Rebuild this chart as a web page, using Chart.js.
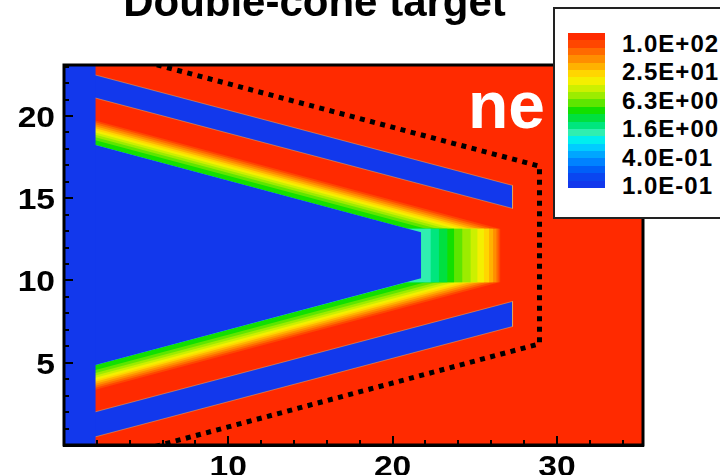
<!DOCTYPE html>
<html>
<head>
<meta charset="utf-8">
<script src="https://cdn.jsdelivr.net/npm/chart.js@4.4.1/dist/chart.umd.min.js"></script>
<style>
  html, body { margin: 0; padding: 0; background: #fff; overflow: hidden; }
  #wrap { position: relative; width: 720px; height: 475px; overflow: hidden;
          font-family: "Liberation Sans", Arial, Helvetica, sans-serif; }
  #plot { position: absolute; left: 0; top: 0; }
  #title { position: absolute; left: 0; top: -19px; width: 629px; text-align: center;
           font-weight: bold; font-size: 42px; line-height: 42px; color: #000; white-space: nowrap; }
  #tag { position: absolute; left: 468px; top: 72px; font-weight: bold; font-size: 66px;
         line-height: 66px; color: #fff; }
  #legend { position: absolute; left: 553px; top: 7px; width: 200px; height: 208px;
            background: #fff; border: 2px solid #222; }
  #bar { position: absolute; left: 13px; top: 24px; width: 37px; height: 155px; }
  #bar div { width: 100%; }
  .lab { position: absolute; left: 67px; font-weight: bold; font-size: 24px; line-height: 24px;
         letter-spacing: 1px; color: #000; white-space: nowrap; }
</style>
</head>
<body>
<div id="wrap">
  <canvas id="plot" width="720" height="475"></canvas>
  <div id="title">Double-cone target</div>
  <div id="tag">ne</div>
  <div id="legend"><div id="bar"></div></div>
</div>
<script>
// ---- axes ----
const xAxisRange = [0, 35.24];
const yAxisRange = [0, 23.1];
const xTickValues = [10, 20, 30];
const xMinorValues = [2, 4, 6, 8, 12, 14, 16, 18, 22, 24, 26, 28, 32, 34];
const yTickValues = [5, 10, 15, 20];
const yMinorValues = [1, 2, 3, 4, 6, 7, 8, 9, 11, 12, 13, 14, 16, 17, 18, 19, 21, 22, 23];

// ---- electron density colour levels (top = highest) ----
const levelColors = ['#ff2a00', '#ff4600', '#ff6a00', '#ff8e00', '#ffb200', '#ffd600', '#f4ef00',
                     '#ccf000', '#9cec00', '#5ee600', '#12e000', '#00e040', '#00e67e', '#30eeb0',
                     '#00eeee', '#00ccff', '#00a6ff', '#0082ff', '#005ff8', '#0a46f0', '#1238ec'];
const legendLabels = ['1.0E+02', '2.5E+01', '6.3E+00', '1.6E+00', '4.0E-01', '1.0E-01'];
const legendLabelY = [43.3, 71.8, 100.3, 128.8, 157.3, 185.8];

// ---- target geometry (x, y) ----
const wallStartX = 1.92;
const outerTopEdge = [[1.92, 22.49], [27.3, 15.78]];       // outer cone, inner face
const innerTopBackEdge = [[1.92, 21.09], [27.3, 14.38]];   // inner cone, outer face
const innerBottomBackEdge = [[1.92, 2.02], [27.3, 8.73]];
const outerBottomEdge = [[1.92, 0.50], [27.3, 7.20]];
const gapEndX = 27.3;
const cavityTop = [[1.92, 18.23], [21.73, 12.93]];         // inner cone, inner face
const cavityBottom = [[1.92, 4.86], [21.73, 10.13]];
const cavityTipX = 21.73;
const tipPlume = [9.9, 13.15];                              // vertical extent of the tip plume

// density bands expanding from the inner cone surface
const bandLevels = [1, 2, 3, 4, 5, 6, 7, 8, 9, 10, 11, 12, 13];
const bandWallDepth = [1.5, 1.38, 1.26, 1.14, 1.02, 0.9, 0.77, 0.63, 0.48, 0.3, 0, 0, 0];
const bandTipReach = [26.55, 26.45, 26.32, 26.12, 25.87, 25.56, 25.16, 24.75, 24.24, 23.74, 23.33, 22.82, 22.32];

// dotted outline
const outlinePath = [[3.8, 23.6], [28.94, 16.95], [28.94, 6.15], [4.0, -0.5]];

// ---- helpers ----
const FONT = '"Liberation Sans", Arial, Helvetica, sans-serif';
const edgeY = (e, x) => e[0][1] + (e[1][1] - e[0][1]) * (x - e[0][0]) / (e[1][0] - e[0][0]);
const edgeX = (e, y) => e[0][0] + (e[1][0] - e[0][0]) * (y - e[0][1]) / (e[1][1] - e[0][1]);
const XS = 1.0; // polygons start under the left vacuum strip

function polygon(points, color, edge) {
  const data = points.map(([x, y]) => ({ x, y }));
  data.push({ ...data[0] });
  return { data, showLine: true, fill: 'shape', backgroundColor: color,
           borderWidth: edge ? 1 : 0, borderColor: edge || 'rgba(0,0,0,0)',
           pointRadius: 0, tension: 0, clip: 0 };
}

function bandPolygon(i) {
  const v = bandWallDepth[i], xk = bandTipReach[i];
  const [B, T] = tipPlume;
  const xa = Math.min(xk, edgeX(cavityTop, T - v));
  const xb = Math.min(xk, edgeX(cavityBottom, B + v));
  return polygon([
    [XS, edgeY(cavityTop, XS) + v],
    [xa, edgeY(cavityTop, xa) + v],
    [xk, Math.max(T, edgeY(cavityTop, xk) + v)],
    [xk, Math.min(B, edgeY(cavityBottom, xk) - v)],
    [xb, edgeY(cavityBottom, xb) - v],
    [XS, edgeY(cavityBottom, XS) - v]
  ], levelColors[bandLevels[i]]);
}

const RED = levelColors[0], BLUE = levelColors[levelColors.length - 1];
const GAP_EDGE = 'rgba(235,180,90,0.5)';
const layers = [];
layers.push(polygon([[-1, -1], [37, -1], [37, 25], [-1, 25]], RED));
layers.push(polygon([[XS, edgeY(outerTopEdge, XS)], [gapEndX, edgeY(outerTopEdge, gapEndX)],
                     [gapEndX, edgeY(innerTopBackEdge, gapEndX)], [XS, edgeY(innerTopBackEdge, XS)]], BLUE, GAP_EDGE));
layers.push(polygon([[XS, edgeY(innerBottomBackEdge, XS)], [gapEndX, edgeY(innerBottomBackEdge, gapEndX)],
                     [gapEndX, edgeY(outerBottomEdge, gapEndX)], [XS, edgeY(outerBottomEdge, XS)]], BLUE, GAP_EDGE));
bandLevels.forEach((_, i) => layers.push(bandPolygon(i)));
layers.push(polygon([[XS, edgeY(cavityTop, XS)], [cavityTipX, edgeY(cavityTop, cavityTipX)],
                     [cavityTipX, edgeY(cavityBottom, cavityTipX)], [XS, edgeY(cavityBottom, XS)]], BLUE));
layers.push(polygon([[-1, -1], [wallStartX, -1], [wallStartX, 25], [-1, 25]], BLUE));
layers.push({ data: outlinePath.map(([x, y]) => ({ x, y })), showLine: true, fill: false,
              borderColor: '#000', borderWidth: 5, borderDash: [5, 5.5], borderCapStyle: 'butt',
              borderJoinStyle: 'miter', pointRadius: 0, tension: 0, clip: 0 });
layers.forEach((d, i) => { d.order = layers.length - i; });

// inward tick marks, frame and (slightly widened) tick labels
const LABEL_STRETCH = 1.12;
const framePlugin = {
  id: 'frame',
  afterDatasetsDraw(chart) {
    const { ctx, chartArea: a, scales: { x, y } } = chart;
    ctx.save();
    ctx.strokeStyle = '#000';
    ctx.lineWidth = 2;
    ctx.beginPath();
    const tick = (vals, len) => {
      vals.forEach(v => { const p = Math.round(x.getPixelForValue(v)); ctx.moveTo(p, a.bottom); ctx.lineTo(p, a.bottom - len); });
    };
    const ytick = (vals, len) => {
      vals.forEach(v => { const p = Math.round(y.getPixelForValue(v)); ctx.moveTo(a.left, p); ctx.lineTo(a.left + len, p); });
    };
    tick(xTickValues, 9); tick(xMinorValues, 5);
    ytick(yTickValues, 9); ytick(yMinorValues, 5);
    ctx.stroke();
    ctx.lineWidth = 3;
    ctx.strokeRect(a.left, a.top, a.right - a.left, a.bottom - a.top);
    ctx.restore();
  },
  afterDraw(chart) {
    const { ctx, chartArea: a, scales: { x, y } } = chart;
    ctx.save();
    ctx.fillStyle = '#000';
    ctx.font = 'bold 30px ' + FONT;
    ctx.textBaseline = 'alphabetic';
    const put = (text, px, py, align) => {
      ctx.save();
      ctx.translate(px, py);
      ctx.scale(LABEL_STRETCH, 1);
      ctx.textAlign = align;
      ctx.fillText(text, 0, 0);
      ctx.restore();
    };
    xTickValues.forEach(v => put(String(v), x.getPixelForValue(v), a.bottom + 31, 'center'));
    yTickValues.forEach(v => put(String(v), a.left - 9, y.getPixelForValue(v) + 11, 'right'));
    ctx.restore();
  }
};

new Chart(document.getElementById('plot'), {
  type: 'scatter',
  data: { datasets: layers },
  options: {
    responsive: false, animation: false, events: [],
    layout: { padding: { left: 0, top: 65, right: 77, bottom: 0 } },
    plugins: { legend: { display: false }, tooltip: { enabled: false }, title: { display: false } },
    scales: {
      x: {
        type: 'linear', min: xAxisRange[0], max: xAxisRange[1],
        afterFit(s) { s.height = 30; },
        afterBuildTicks(s) { s.ticks = xTickValues.map(v => ({ value: v })); },
        grid: { drawOnChartArea: false, drawTicks: false },
        border: { display: true, color: '#000', width: 3 },
        ticks: { display: false }
      },
      y: {
        type: 'linear', min: yAxisRange[0], max: yAxisRange[1],
        afterFit(s) { s.width = 64; },
        afterBuildTicks(s) { s.ticks = yTickValues.map(v => ({ value: v })); },
        grid: { drawOnChartArea: false, drawTicks: false },
        border: { display: true, color: '#000', width: 3 },
        ticks: { display: false }
      }
    }
  },
  plugins: [framePlugin]
});

// colour legend
const bar = document.getElementById('bar');
levelColors.forEach(c => {
  const d = document.createElement('div');
  d.style.height = (155 / levelColors.length) + 'px';
  d.style.background = c;
  bar.appendChild(d);
});
const legend = document.getElementById('legend');
legendLabels.forEach((t, i) => {
  const d = document.createElement('div');
  d.className = 'lab';
  d.textContent = t;
  d.style.top = (legendLabelY[i] - 11.7 - 9) + 'px';
  legend.appendChild(d);
});
</script>
</body>
</html>
